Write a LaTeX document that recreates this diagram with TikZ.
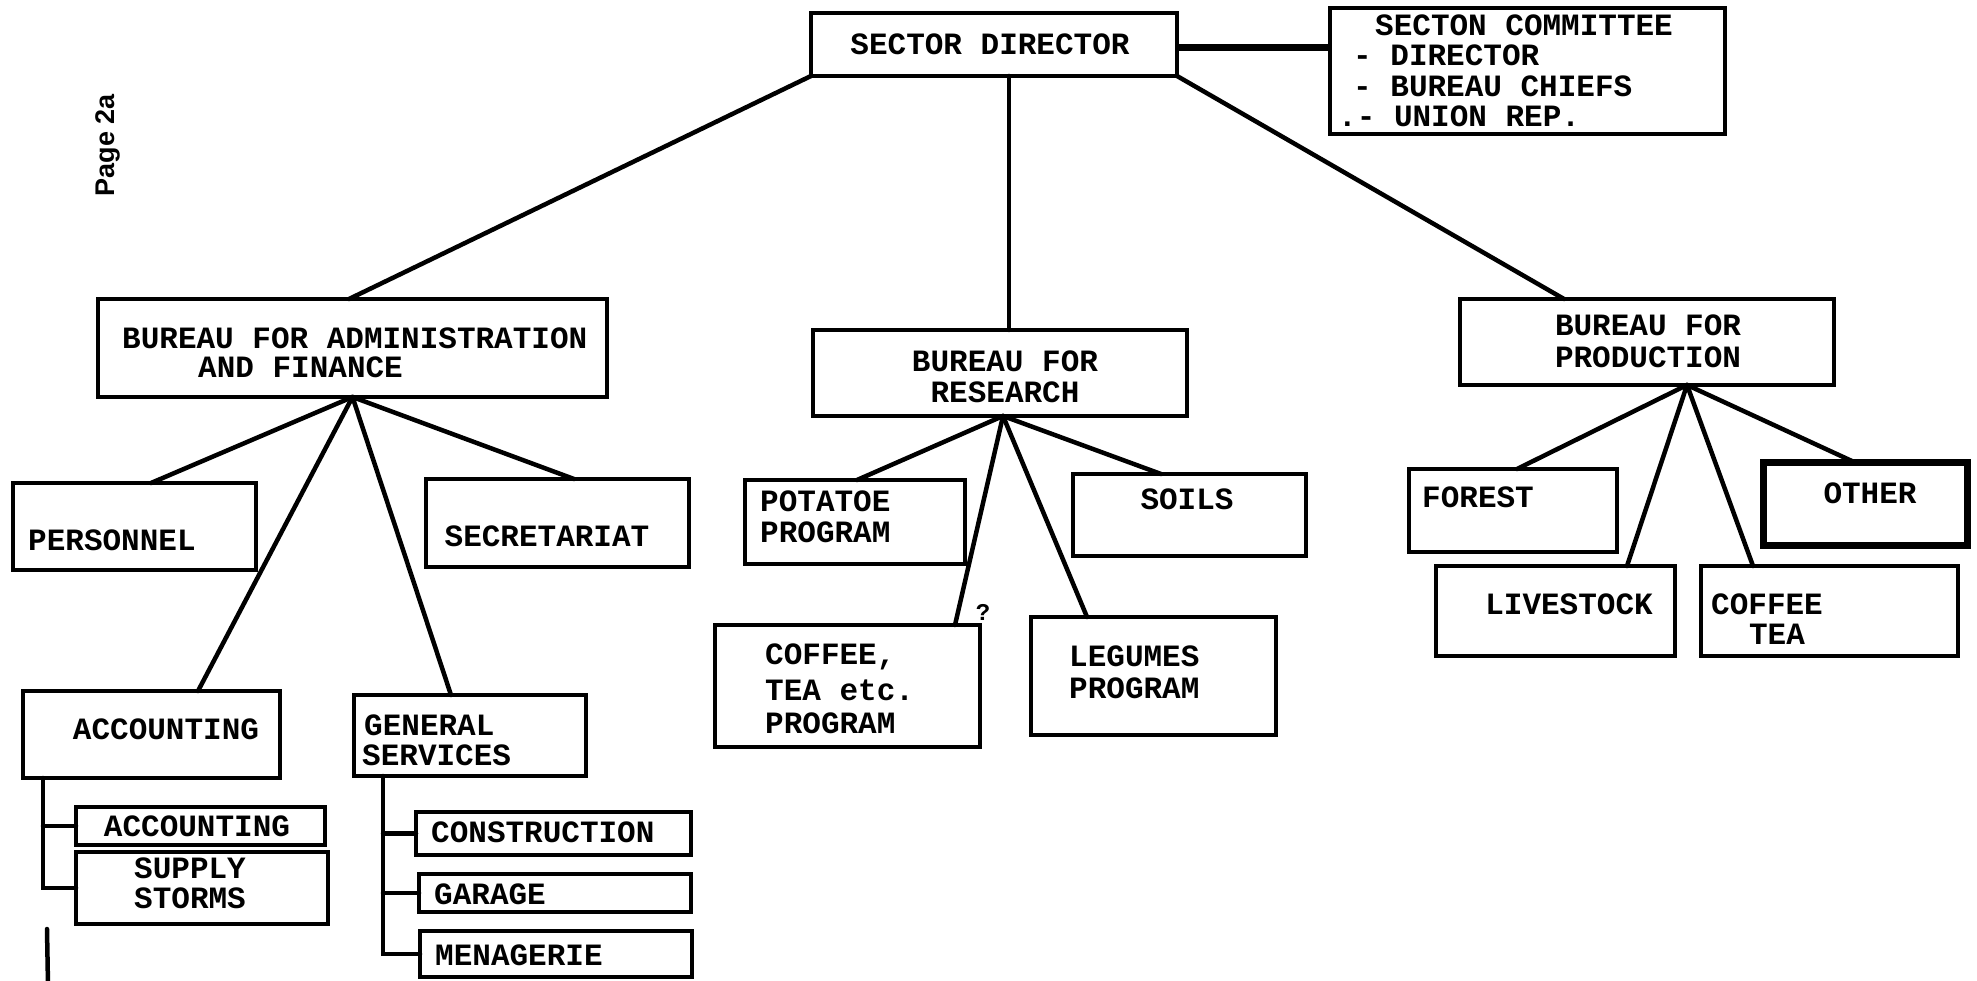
\documentclass[tikz,border=0pt]{standalone}
\usepackage{fontspec}
\setmonofont{Liberation Mono}
\setsansfont{Liberation Sans}
\usetikzlibrary{calc}
\tikzset{
  box/.style={draw, line width=4.5pt, rectangle, inner sep=0pt, outer sep=0pt},
  conn/.style={line width=4.5pt, line cap=round},
  txt/.style={font=\ttfamily\bfseries\fontsize{31}{31}\selectfont, inner sep=0pt},
  txtw/.style={txt, anchor=west},
}
\newcommand\bxn[6]{\node[box,#6,minimum width={(#4)-(#2)},minimum height={(#5)-(#3)}] (#1) at ({((#2)+(#4))/2},{((#3)+(#5))/2}) {};}
\begin{document}
\begin{tikzpicture}[x=1pt,y=-1pt]
\useasboundingbox (0,0) rectangle (1977,981);
% boxes
\bxn{sd}{811}{13}{1177}{76}{}
\bxn{sc}{1330}{8}{1725}{134}{}
\bxn{baf}{98}{299}{607}{397}{}
\bxn{br}{813}{330}{1187}{416}{}
\bxn{bp}{1460}{299}{1834}{385}{}
\bxn{pers}{13}{483}{256}{570}{}
\bxn{sec}{426}{479}{689}{567}{}
\bxn{acc}{23}{691}{280}{778}{}
\bxn{gs}{354}{695}{586}{776}{}
\bxn{accsub}{76}{807}{325}{845}{}
\bxn{sup}{76}{852}{328}{924}{}
\bxn{con}{416}{812}{691}{855}{}
\bxn{gar}{419}{874}{691}{912}{}
\bxn{men}{420}{931}{692}{977}{}
\bxn{pot}{745}{480}{965}{564}{}
\bxn{soils}{1073}{474}{1306}{556}{}
\bxn{cof}{715}{625}{980}{747}{}
\bxn{leg}{1031}{617}{1276}{735}{}
\bxn{forest}{1409}{469}{1617}{552}{}
\bxn{other}{1763}{462}{1967}{545}{line width=7pt}
\bxn{live}{1436}{566}{1675}{656}{}
\bxn{cft}{1701}{566}{1958}{656}{}
% texts
\node[txt] (t-sd) at (990,44) {SECTOR DIRECTOR};
\node[txtw] (t-sc1) at (1375,25) {SECTON COMMITTEE};
\node[txtw] (t-sc2) at (1353,55) {- DIRECTOR};
\node[txtw] (t-sc3) at (1353,86) {- BUREAU CHIEFS};
\node[txtw] (t-sc4) at (1338,116) {.- UNION REP.};
\node[txtw] (t-baf1) at (122,338) {BUREAU FOR ADMINISTRATION};
\node[txtw] (t-baf2) at (198,367) {AND FINANCE};
\node[txt] (t-br1) at (1005,361) {BUREAU FOR};
\node[txt] (t-br2) at (1005,392) {RESEARCH};
\node[txt] (t-bp1) at (1648,325) {BUREAU FOR};
\node[txt] (t-bp2) at (1648,357) {PRODUCTION};
\node[txtw] (t-pers) at (28,540) {PERSONNEL};
\node[txt] (t-sec) at (547,536) {SECRETARIAT};
\node[txt] (t-acc) at (166,729) {ACCOUNTING};
\node[txtw] (t-gs1) at (364,725) {GENERAL};
\node[txtw] (t-gs2) at (362,755) {SERVICES};
\node[txt] (t-accsub) at (197,826) {ACCOUNTING};
\node[txtw] (t-sup1) at (134,868) {SUPPLY};
\node[txtw] (t-sup2) at (134,898) {STORMS};
\node[txtw] (t-con) at (431,832) {CONSTRUCTION};
\node[txtw] (t-gar) at (434,894) {GARAGE};
\node[txtw] (t-men) at (435,955) {MENAGERIE};
\node[txtw] (t-pot1) at (760,501) {POTATOE};
\node[txtw] (t-pot2) at (760,532) {PROGRAM};
\node[txt] (t-soils) at (1187,499) {SOILS};
\node[txtw] (t-cof1) at (765,657) {COFFEE,};
\node[txtw] (t-cof2) at (765,690) {TEA etc.};
\node[txtw] (t-cof3) at (765,723) {PROGRAM};
\node[txtw] (t-leg1) at (1069,656) {LEGUMES};
\node[txtw] (t-leg2) at (1069,688) {PROGRAM};
\node[txtw] (t-forest) at (1422,497) {FOREST};
\node[txt] (t-other) at (1870,493) {OTHER};
\node[txt] (t-live) at (1569,604) {LIVESTOCK};
\node[txtw] (t-cft1) at (1711,604) {COFFEE};
\node[txt] (t-cft2) at (1777,634) {TEA};
\node[font=\ttfamily\bfseries\fontsize{24}{24}\selectfont, inner sep=0pt] (q) at (983,612) {?};
\node[rotate=90, font=\sffamily\bfseries\fontsize{27}{27}\selectfont, inner sep=0pt] (page) at (108,145) {Page 2a};
% connectors
\draw[conn] (sd.south west) -- ($(baf.north west)+(251,0)$);
\draw[conn] ($(sd.south)+(15,0)$) -- ($(br.north west)+(196,0)$);
\draw[conn] (sd.south east) -- ($(bp.north west)+(104,0)$);
\draw[line width=6.5pt] ($(sd.east)+(0,3)$) -- ($(sc.west |- sd.east)+(0,3)$);
\coordinate (bafj) at (baf.south);
\coordinate (brj) at ($(br.south)+(3,0)$);
\coordinate (bpj) at ($(bp.south)+(40,0)$);
\draw[conn] (bafj) -- ($(pers.north west)+(138,0)$);
\draw[conn] (bafj) -- ($(sec.north west)+(148,0)$);
\draw[conn] (bafj) -- ($(acc.north west)+(175,0)$);
\draw[conn] (bafj) -- ($(gs.north west)+(97,0)$);
\draw[conn] (brj) -- ($(pot.north west)+(112,0)$);
\draw[conn] (brj) -- ($(soils.north west)+(88,0)$);
\draw[conn] (brj) -- ($(cof.north west)+(240,0)$);
\draw[conn] (brj) -- ($(leg.north west)+(56,0)$);
\draw[conn] (bpj) -- ($(forest.north west)+(108,0)$);
\draw[conn] (bpj) -- ($(other.north west)+(91,0)$);
\draw[conn] (bpj) -- ($(live.north west)+(191,0)$);
\draw[conn] (bpj) -- ($(cft.north west)+(52,0)$);
% sub trees
\coordinate (acct) at ($(acc.south west)+(20,0)$);
\draw[conn] (acct) |- (sup.west);
\draw[conn] (acct |- accsub.west) -- (accsub.west);
\coordinate (gst) at ($(gs.south west)+(29,0)$);
\draw[conn] (gst) |- (men.west);
\draw[conn] (gst |- con.west) -- (con.west);
\draw[conn] (gst |- gar.west) -- (gar.west);
\coordinate (stray1) at (47,929);
\coordinate (stray2) at (48,985);
\draw[conn] (stray1) -- (stray2);
\end{tikzpicture}
\end{document}
